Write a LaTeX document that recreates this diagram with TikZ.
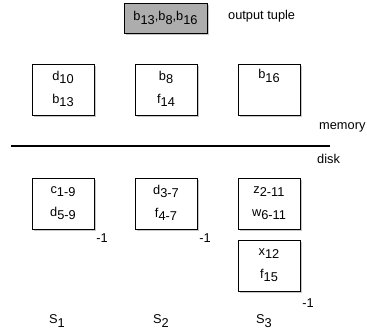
\documentclass[tikz,border=0pt]{standalone}
\usepackage{fontspec}
\setmainfont{Liberation Sans}
\usetikzlibrary{shadows}
\newcommand{\sbs}[2]{#1\raisebox{-0.5ex}{#2}}
\begin{document}
\begin{tikzpicture}[x=1pt,y=-1pt,
  every node/.style={font=\fontsize{12.8}{23}\selectfont, inner sep=0pt, align=center},
  blk/.style={draw, line width=0.6pt, fill=white, minimum width=62pt,
    drop shadow={shadow xshift=2pt, shadow yshift=-2pt, fill=black!22, opacity=1}},
  lbl/.style={anchor=center}]
\useasboundingbox (0,0) rectangle (367,332);
% output tuple
\node[blk, fill=black!32, minimum width=83pt, minimum height=30pt] (out) at (165.5,18) {\sbs{b}{13},\sbs{b}{8},\sbs{b}{16}};
\node[anchor=west] (outl) at (228,16) {output tuple};
% memory
\node[blk, minimum height=51pt] (m1) at (63,89.5) {};
\node[lbl] (m1t) at (63,89) {\sbs{d}{10}\\\sbs{b}{13}};
\node[blk, minimum height=51pt] (m2) at (166,89.5) {};
\node[lbl] (m2t) at (166,89) {\sbs{b}{8}\\\sbs{f}{14}};
\node[blk, minimum height=51pt] (m3) at (269,89.5) {};
\node[lbl] (m3t) at (269,89) {\sbs{b}{16}\\\strut};
\node[anchor=west] (mem) at (319,127) {memory};
% divider
\coordinate (l0) at (11,146);
\coordinate (l1) at (330,146);
\draw[line width=1.6pt] (l0) -- (l1);
\node[anchor=west] (dsk) at (317,159) {disk};
% disk
\node[blk, minimum height=51pt] (d1) at (63,203.5) {};
\node[lbl] (d1t) at (63,203) {\sbs{c}{1-9}\\\sbs{d}{5-9}};
\node[blk, minimum height=51pt] (d2) at (166,203.5) {};
\node[lbl] (d2t) at (166,203) {\sbs{d}{3-7}\\\sbs{f}{4-7}};
\node[blk, minimum height=51pt] (d3) at (269,203.5) {};
\node[lbl] (d3t) at (269,203) {\sbs{z}{2-11}\\\sbs{w}{6-11}};
\node[blk, minimum height=51pt] (d4) at (269,265.5) {};
\node[lbl] (d4t) at (269,265) {\sbs{x}{12}\\\sbs{f}{15}};
% -1 labels
\node (n1) at (102,238) {-1};
\node (n2) at (205,238) {-1};
\node (n3) at (308,303) {-1};
% S labels
\node (s1) at (57,321) {\sbs{S}{1}};
\node (s2) at (161,321) {\sbs{S}{2}};
\node (s3) at (264,321) {\sbs{S}{3}};
\end{tikzpicture}
\end{document}
